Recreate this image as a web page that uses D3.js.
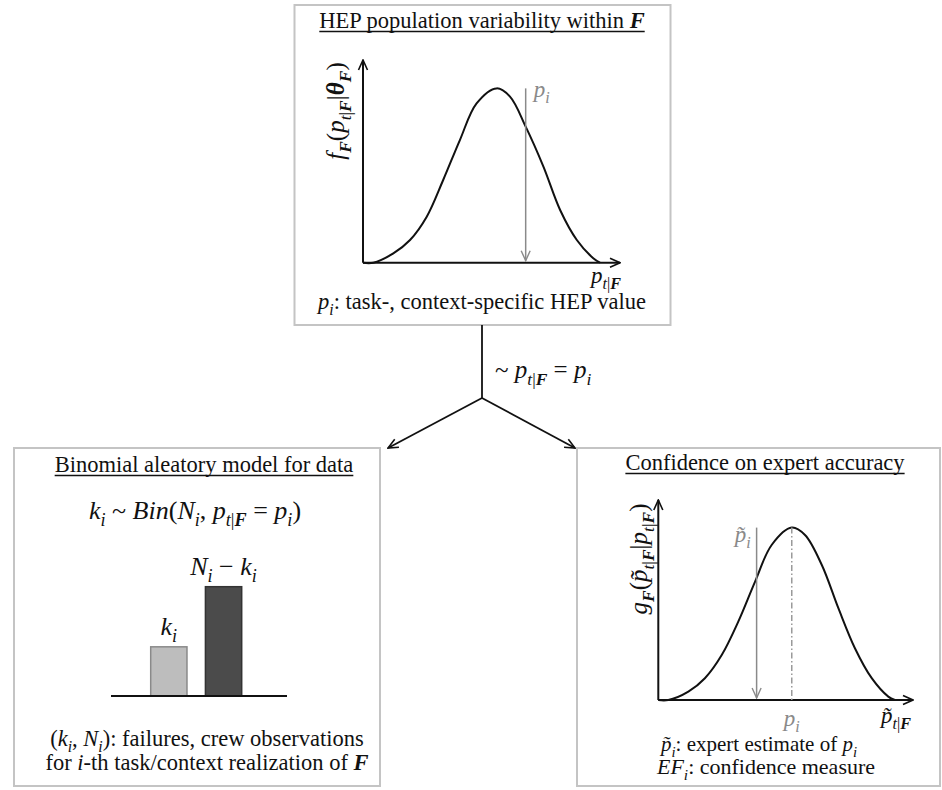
<!DOCTYPE html>
<html>
<head>
<meta charset="utf-8">
<script src="https://cdn.jsdelivr.net/npm/d3@7"></script>
<style>
  html, body { margin: 0; padding: 0; background: #fff; }
  svg { display: block; }
  svg text, svg tspan { font-family: "Liberation Serif", "DejaVu Serif", "Times New Roman", Times, serif; }
</style>
</head>
<body>
<svg id="chart" width="942" height="790"></svg>
<script>
// Population variability density f_F(p | theta_F), sampled along p (0..1 of the axis)
const popX       = [0.00, 0.04, 0.118, 0.183, 0.248, 0.312, 0.377, 0.442, 0.52, 0.572, 0.633, 0.702, 0.767, 0.832, 0.896, 0.922];
const popDensity = [0.00, 0.00, 0.046, 0.112, 0.227, 0.408, 0.605, 0.786, 0.86, 0.819, 0.671, 0.474, 0.260, 0.112, 0.022, 0.00];
const popPi = 0.633;          // task-specific HEP value p_i

// Expert accuracy density g_F(p~ | p), sampled along p~
const accX       = [0.00, 0.039, 0.118, 0.183, 0.249, 0.314, 0.38, 0.445, 0.524, 0.576, 0.642, 0.707, 0.772, 0.838, 0.903, 0.929];
const accDensity = [0.00, 0.00, 0.042, 0.109, 0.225, 0.392, 0.592, 0.775, 0.862, 0.825, 0.675, 0.459, 0.259, 0.109, 0.017, 0.00];
const accTrue = 0.524;        // p_i (mode)
const accEstimate = 0.386;    // expert estimate p~_i

// Binomial data bars
const barCategories = ["failures", "successes"];
const barCounts = [9, 20];

const svg = d3.select("#chart");
const GRAY = "#8a8a8a";
const PROSE = 22.5;   // running text size
const MATH = 23;      // inline formula size

// ---- markers ----
const defs = svg.append("defs");
function chevron(id, color, w) {
  defs.append("marker")
    .attr("id", id)
    .attr("viewBox", "0 0 12 12")
    .attr("refX", 11).attr("refY", 6)
    .attr("markerWidth", 12).attr("markerHeight", 12)
    .attr("markerUnits", "userSpaceOnUse")
    .attr("orient", "auto")
    .append("path")
    .attr("d", "M1,1.5 L11,6 L1,10.5")
    .attr("fill", "none")
    .attr("stroke", color)
    .attr("stroke-width", w)
    .attr("stroke-linejoin", "miter");
}
chevron("arrowBlack", "#111", 1.6);
chevron("arrowGray", GRAY, 1.4);

// ---- rich text with italic / bold / subscripts ----
function rich(sel, parts, size) {
  let shift = 0;
  parts.forEach(p => {
    const target = p.sub ? size * 0.27 : 0;
    sel.append("tspan")
      .attr("dy", (target - shift).toFixed(2))
      .attr("font-size", p.sub ? size * 0.7 : size)
      .attr("font-style", p.i ? "italic" : "normal")
      .attr("font-weight", p.b ? "bold" : "normal")
      .text(p.t);
    shift = target;
  });
  return sel;
}
function label(x, y, parts, size, opts = {}) {
  const t = svg.append("text")
    .attr("x", x).attr("y", y)
    .attr("text-anchor", opts.anchor || "middle")
    .attr("fill", opts.color || "#111");
  if (opts.rotate) t.attr("transform", `rotate(-90 ${x} ${y})`);
  rich(t, parts, size);
  return t;
}
function underlinedTitle(cx, y, parts, size) {
  const t = label(cx, y, parts, size);
  const w = t.node().getComputedTextLength();
  svg.append("line")
    .attr("x1", cx - w / 2).attr("x2", cx + w / 2)
    .attr("y1", y + 3.5).attr("y2", y + 3.5)
    .attr("stroke", "#111").attr("stroke-width", 1.3);
}

// common math fragments
const pTF = [{t: "p", i: 1}, {t: "t", i: 1, sub: 1}, {t: "|", sub: 1}, {t: "F", i: 1, b: 1, sub: 1}];
const pi_ = [{t: "p", i: 1}, {t: "i", i: 1, sub: 1}];
const ptilde = "p\u0303";

// ---- panel frames ----
function frame(x0, y0, x1, y1) {
  svg.append("rect")
    .attr("x", x0).attr("y", y0)
    .attr("width", x1 - x0).attr("height", y1 - y0)
    .attr("fill", "none").attr("stroke", "#c4c4c4").attr("stroke-width", 2);
}
frame(294.5, 5, 670.5, 325);
frame(14, 448, 380, 786);
frame(577, 448, 940, 786);

// ---- axes helper ----
function arrowAxes(x, y) {
  svg.append("line")
    .attr("x1", x.range()[0]).attr("y1", y.range()[0])
    .attr("x2", x.range()[0]).attr("y2", y.range()[1])
    .attr("stroke", "#111").attr("stroke-width", 2)
    .attr("marker-end", "url(#arrowBlack)");
  svg.append("line")
    .attr("x1", x.range()[0]).attr("y1", y.range()[0])
    .attr("x2", x.range()[1]).attr("y2", y.range()[0])
    .attr("stroke", "#111").attr("stroke-width", 2)
    .attr("marker-end", "url(#arrowBlack)");
}
function densityCurve(xs, ys, x, y) {
  const line = d3.line()
    .x((d, i) => x(xs[i]))
    .y(d => y(d))
    .curve(d3.curveCatmullRom.alpha(0.5));
  svg.append("path")
    .datum(ys)
    .attr("d", line)
    .attr("fill", "none")
    .attr("stroke", "#111")
    .attr("stroke-width", 2);
}

// ================= Top panel: HEP population variability =================
underlinedTitle(482, 28, [{t: "HEP population variability within "}, {t: "F", i: 1, b: 1}], PROSE);

const xTop = d3.scaleLinear().domain([0, 1]).range([363, 620]);
const yTop = d3.scaleLinear().domain([0, 1]).range([262.7, 60]);
arrowAxes(xTop, yTop);
densityCurve(popX, popDensity, xTop, yTop);

svg.append("line")
  .attr("x1", xTop(popPi)).attr("x2", xTop(popPi))
  .attr("y1", yTop(popDensity[8])).attr("y2", yTop(0) - 2)
  .attr("stroke", GRAY).attr("stroke-width", 1.5)
  .attr("marker-end", "url(#arrowGray)");
label(xTop(popPi) + 8, 97, pi_, MATH, {anchor: "start", color: GRAY});

label(344, 111, [{t: "f", i: 1}, {t: "F", i: 1, b: 1, sub: 1}, {t: "("}].concat(pTF, [{t: "|"}, {t: "θ", i: 1, b: 1}, {t: "F", i: 1, b: 1, sub: 1}, {t: ")"}]), 25, {rotate: true});
label(606, 283, pTF, MATH);
label(482, 309, pi_.concat([{t: ": task-, context-specific HEP value"}]), PROSE);

// ================= Connector =================
svg.append("line").attr("x1", 482).attr("y1", 325).attr("x2", 482).attr("y2", 398)
  .attr("stroke", "#111").attr("stroke-width", 1.8);
[[388, 448], [575, 448]].forEach(([tx, ty]) => {
  svg.append("line").attr("x1", 482).attr("y1", 398).attr("x2", tx).attr("y2", ty)
    .attr("stroke", "#111").attr("stroke-width", 1.8)
    .attr("marker-end", "url(#arrowBlack)");
});
label(495, 378, [{t: "~ "}].concat(pTF, [{t: " = "}], pi_), 25, {anchor: "start"});

// ================= Bottom-left panel: Binomial model =================
underlinedTitle(204, 472, [{t: "Binomial aleatory model for data"}], PROSE);
label(195, 519, [{t: "k", i: 1}, {t: "i", i: 1, sub: 1}, {t: " ~ "}, {t: "Bin", i: 1}, {t: "("}, {t: "N", i: 1}, {t: "i", i: 1, sub: 1}, {t: ", "}]
  .concat(pTF, [{t: " = "}], pi_, [{t: ")"}]), 26);

const xBar = d3.scaleBand().domain(barCategories).range([150.7, 241.7]).paddingInner(0.337).paddingOuter(0);
const yBar = d3.scaleLinear().domain([0, 20]).range([696, 586.7]);
const barFill = ["#bdbdbd", "#4b4b4b"];
const barStroke = ["#8a8a8a", "#333333"];
svg.selectAll("rect.bar")
  .data(barCounts)
  .join("rect")
  .attr("class", "bar")
  .attr("x", (d, i) => xBar(barCategories[i]))
  .attr("y", d => yBar(d))
  .attr("width", xBar.bandwidth())
  .attr("height", d => yBar(0) - yBar(d))
  .attr("fill", (d, i) => barFill[i])
  .attr("stroke", (d, i) => barStroke[i])
  .attr("stroke-width", 1.5);
svg.append("line").attr("x1", 111).attr("x2", 287).attr("y1", yBar(0)).attr("y2", yBar(0))
  .attr("stroke", "#111").attr("stroke-width", 1.8);

const barLabels = [
  [{t: "k", i: 1}, {t: "i", i: 1, sub: 1}],
  [{t: "N", i: 1}, {t: "i", i: 1, sub: 1}, {t: " − "}, {t: "k", i: 1}, {t: "i", i: 1, sub: 1}]
];
barCounts.forEach((d, i) => {
  label(xBar(barCategories[i]) + xBar.bandwidth() / 2, yBar(d) - 12, barLabels[i], 26);
});

label(207, 746, [{t: "("}, {t: "k", i: 1}, {t: "i", i: 1, sub: 1}, {t: ", "}, {t: "N", i: 1}, {t: "i", i: 1, sub: 1}, {t: ")"}, {t: ": failures, crew observations"}], PROSE);
label(207, 770, [{t: "for "}, {t: "i", i: 1}, {t: "-th task/context realization of "}, {t: "F", i: 1, b: 1}], PROSE);

// ================= Bottom-right panel: expert accuracy =================
underlinedTitle(765, 470, [{t: "Confidence on expert accuracy"}], PROSE);

const xAcc = d3.scaleLinear().domain([0, 1]).range([658.3, 913]);
const yAcc = d3.scaleLinear().domain([0, 1]).range([700, 500]);
arrowAxes(xAcc, yAcc);
densityCurve(accX, accDensity, xAcc, yAcc);

svg.append("line")
  .attr("x1", xAcc(accTrue)).attr("x2", xAcc(accTrue))
  .attr("y1", yAcc(accDensity[8])).attr("y2", yAcc(0))
  .attr("stroke", "#9a9a9a").attr("stroke-width", 1.5)
  .attr("stroke-dasharray", "6,2.5,1.5,2.5");
svg.append("line")
  .attr("x1", xAcc(accEstimate)).attr("x2", xAcc(accEstimate))
  .attr("y1", yAcc(accDensity[8])).attr("y2", yAcc(0) - 2)
  .attr("stroke", GRAY).attr("stroke-width", 1.5)
  .attr("marker-end", "url(#arrowGray)");
label(xAcc(accEstimate) - 6, 542, [{t: ptilde, i: 1}, {t: "i", i: 1, sub: 1}], MATH, {anchor: "end", color: GRAY});
label(xAcc(accTrue), 726, pi_, MATH, {color: GRAY});
label(896, 723, [{t: ptilde, i: 1}, {t: "t", i: 1, sub: 1}, {t: "|", sub: 1}, {t: "F", i: 1, b: 1, sub: 1}], MATH);

label(647, 559, [{t: "g", i: 1}, {t: "F", i: 1, b: 1, sub: 1}, {t: "("}, {t: ptilde, i: 1}, {t: "t", i: 1, sub: 1}, {t: "|", sub: 1}, {t: "F", i: 1, b: 1, sub: 1}, {t: "|"}].concat(pTF, [{t: ")"}]), 25, {rotate: true});

label(759, 751, [{t: ptilde, i: 1}, {t: "i", i: 1, sub: 1}, {t: ": expert estimate of "}].concat(pi_), 21);
label(766, 774, [{t: "EF", i: 1}, {t: "i", i: 1, sub: 1}, {t: ": confidence measure"}], 22);
</script>
</body>
</html>
